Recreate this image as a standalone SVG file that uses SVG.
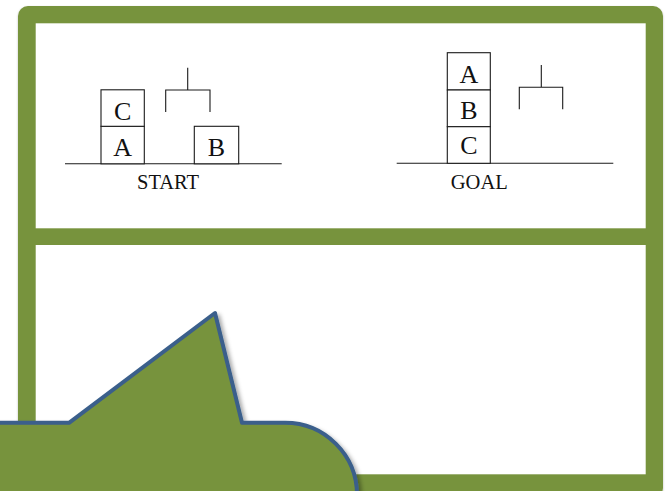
<svg xmlns="http://www.w3.org/2000/svg" width="665" height="491" viewBox="0 0 665 491">
  <defs>
    <filter id="softShadow" x="-10%" y="-10%" width="130%" height="130%">
      <feDropShadow dx="3" dy="3" stdDeviation="2.2" flood-color="#000" flood-opacity="0.35"/>
    </filter>
    <filter id="frameShadow" x="-5%" y="-5%" width="110%" height="110%">
      <feDropShadow dx="0" dy="1" stdDeviation="1.2" flood-color="#000" flood-opacity="0.25"/>
    </filter>
    <style>
      .green { fill: #77933c; }
      .panel { fill: #ffffff; }
      .ink { fill: none; stroke: #1a1a1a; stroke-width: 1.1; }
      .box { fill: #ffffff; stroke: #1a1a1a; stroke-width: 1.1; }
      .letter { font-family: "Liberation Serif", "Times New Roman", serif; font-size: 26px; fill: #111; text-anchor: middle; }
      .caption { font-family: "Liberation Serif", "Times New Roman", serif; font-size: 21px; fill: #111; text-anchor: middle; }
      .callout { fill: #77933c; stroke: #3a5f8b; stroke-width: 4; stroke-linejoin: round; }
    </style>
  </defs>

  <rect width="665" height="491" fill="#ffffff"/>

  <!-- green frame with two white panels -->
  <g id="frame">
    <rect class="green" x="18" y="6" width="645" height="492" rx="10" filter="url(#frameShadow)"/>
    <rect class="panel" x="35.7" y="23.3" width="610" height="205"/>
    <rect class="panel" x="35.7" y="245" width="610" height="229.3"/>
  </g>

  <!-- initial state: C on A, B on table, empty gripper -->
  <g id="start">
    <line class="ink" x1="65" y1="163.8" x2="281.7" y2="163.8"/>
    <rect class="box" x="101" y="126.3" width="43.3" height="37.5"/>
    <rect class="box" x="101" y="89.8" width="43.3" height="36.5"/>
    <rect class="box" x="194.3" y="126.3" width="44.4" height="37.5"/>
    <text class="letter" x="122.7" y="120">C</text>
    <text class="letter" x="122.7" y="155.5">A</text>
    <text class="letter" x="216.5" y="155.5">B</text>
    <path class="ink" d="M187.7 67.7 V90 M165.7 112 V90 H210 V112"/>
    <text class="caption" x="168" y="189.3" textLength="62" lengthAdjust="spacingAndGlyphs">START</text>
  </g>

  <!-- goal state: A on B on C, empty gripper -->
  <g id="goal">
    <line class="ink" x1="396.7" y1="163.3" x2="613.3" y2="163.3"/>
    <rect class="box" x="447.3" y="52.7" width="43" height="37.3"/>
    <rect class="box" x="447.3" y="90" width="43" height="36.7"/>
    <rect class="box" x="447.3" y="126.7" width="43" height="36.6"/>
    <text class="letter" x="468.8" y="82.5">A</text>
    <text class="letter" x="468.8" y="118.5">B</text>
    <text class="letter" x="468.8" y="154">C</text>
    <path class="ink" d="M541.3 65 V87.3 M519.3 109.3 V87.3 H562.7 V109.3"/>
    <text class="caption" x="479.3" y="189" textLength="57" lengthAdjust="spacingAndGlyphs">GOAL</text>
  </g>

  <!-- speech-bubble callout rising from the lower left -->
  <g id="callout">
    <path class="callout" filter="url(#softShadow)" d="M-20 422.8 L69 422.8 L215 313 L242 422.8 L285 422.8 A72 72 0 0 1 357 494.8 L357 530 L-20 530 Z"/>
  </g>
</svg>
